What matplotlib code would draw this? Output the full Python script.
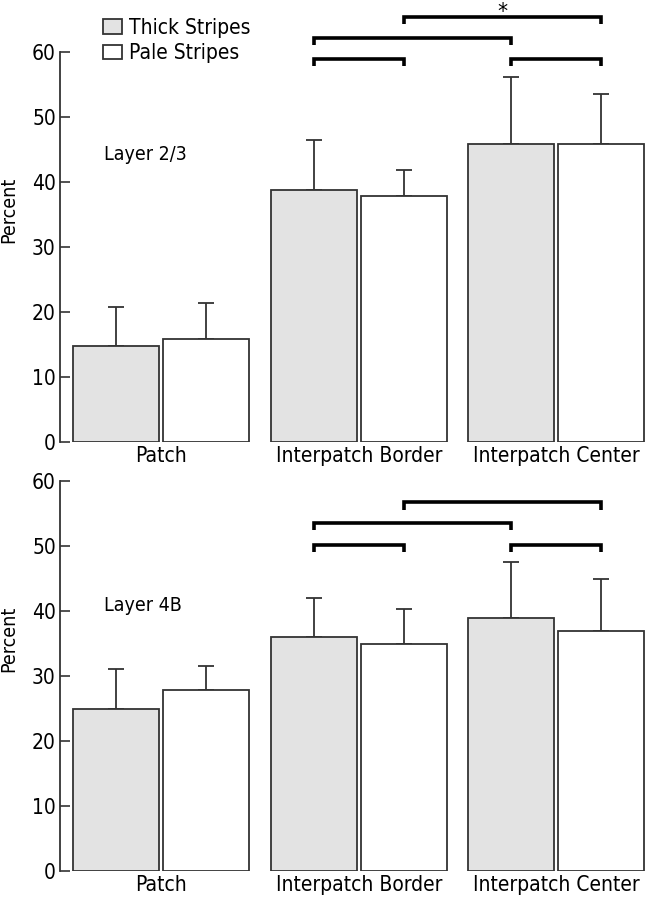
import numpy as np
import matplotlib.pyplot as plt
from matplotlib.patches import Patch

plt.rcParams['font.family'] = ['DejaVu Sans']
plt.rcParams['font.stretch'] = 'condensed'

groups = ["Patch", "Interpatch Border", "Interpatch Center"]
series = ["Thick Stripes", "Pale Stripes"]

thick23 = [14.8, 38.8, 45.8]
thick23_err = [6.0, 7.7, 10.3]
pale23 = [15.8, 37.8, 45.8]
pale23_err = [5.6, 4.0, 7.7]

thick4b = [24.9, 36.0, 38.9]
thick4b_err = [6.2, 6.0, 8.6]
pale4b = [27.8, 35.0, 36.9]
pale4b_err = [3.8, 5.3, 8.0]

# (bar a, bar b, height) ; bar index: 2*group + series
brackets23 = [(2, 3, 58.9), (2, 4, 62.2), (4, 5, 58.9), (3, 5, 65.4)]
brackets4b = [(2, 3, 50.2), (2, 4, 53.6), (4, 5, 50.2), (3, 5, 56.7)]
star23 = [(3, 5)]

fig = plt.figure(figsize=(6.45, 9), dpi=100)
ax1 = fig.add_axes([0.093, 0.5089, 0.907, 0.4333])
ax2 = fig.add_axes([0.093, 0.0322, 0.907, 0.4333])

off = 0.228
w = 0.436
x = np.arange(len(groups))
edge = '#333333'


def panel(ax, th, the, pa, pae, brk, stars, label, ly):
    ax.bar(x - off, th, w, color='#e3e3e3', edgecolor=edge, linewidth=1.3, zorder=2)
    ax.bar(x + off, pa, w, color='white', edgecolor=edge, linewidth=1.3, zorder=2)
    ax.errorbar(x - off, th, yerr=[np.zeros(3), the], fmt='none', ecolor=edge,
                elinewidth=1.3, capsize=6, capthick=1.3, zorder=1)
    ax.errorbar(x + off, pa, yerr=[np.zeros(3), pae], fmt='none', ecolor=edge,
                elinewidth=1.3, capsize=6, capthick=1.3, zorder=1)
    centers = []
    for g in x:
        centers += [g - off, g + off]
    for a, b, h in brk:
        xa, xb = centers[a], centers[b]
        ax.plot([xa, xa, xb, xb], [h - 1.1, h, h, h - 1.1], color='black', lw=2.6,
                clip_on=False, solid_joinstyle='miter', solid_capstyle='butt')
        if (a, b) in stars:
            ax.text((xa + xb) / 2, h + 2.35, '*', ha='center', va='top', fontsize=16)
    ax.set_xlim(-0.514, 2.45)
    ax.set_ylim(0, 60)
    ax.set_yticks([0, 10, 20, 30, 40, 50, 60])
    ax.set_xticks(x)
    ax.set_xticklabels(groups, fontsize=15)
    ax.tick_params(axis='x', length=0, pad=3)
    ax.tick_params(axis='y', direction='in', length=7, width=1.2, color=edge,
                   labelsize=15, pad=3)
    for s in ['top', 'right', 'bottom']:
        ax.spines[s].set_visible(False)
    ax.spines['left'].set_color(edge)
    ax.spines['left'].set_linewidth(1.3)
    ax.set_ylabel('Percent', fontsize=14)
    ax.yaxis.set_label_coords(-0.072, 0.595)
    ax.text(-0.29, ly, label, fontsize=14, ha='left', va='center')


panel(ax1, thick23, thick23_err, pale23, pale23_err, brackets23, star23, 'Layer 2/3', 44.2)
panel(ax2, thick4b, thick4b_err, pale4b, pale4b_err, brackets4b, [], 'Layer 4B', 40.9)

handles = [Patch(facecolor='#e3e3e3', edgecolor=edge, linewidth=1.3),
           Patch(facecolor='white', edgecolor=edge, linewidth=1.3)]
fig.legend(handles, series, loc='upper left', bbox_to_anchor=(0.16, 0.98),
           frameon=False, fontsize=15, handlelength=0.9, handleheight=0.7,
           handletextpad=0.35, labelspacing=0.25, borderpad=0, borderaxespad=0)

fig.savefig('out.png', dpi=100)
